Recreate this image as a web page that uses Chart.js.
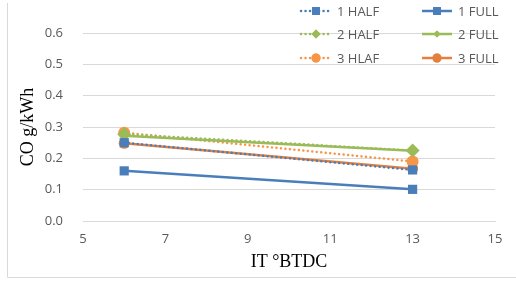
<!DOCTYPE html>
<html>
<head>
<meta charset="utf-8">
<script src="https://cdn.jsdelivr.net/npm/chart.js@4.4.1/dist/chart.umd.min.js"></script>
<style>
  html, body { margin: 0; padding: 0; background: #fff; }
  #wrap { position: relative; width: 516px; height: 282px; }
</style>
</head>
<body>
<div id="wrap"><canvas id="coChart"></canvas></div>
<script>
// data
const timing = [6, 13];
const seriesNames = ["1 HALF", "1 FULL", "2 HALF", "2 FULL", "3 HLAF", "3 FULL"];
const half1 = [0.25, 0.163];
const full1 = [0.16, 0.101];
const half2 = [0.277, 0.225];
const full2 = [0.272, 0.224];
const half3 = [0.282, 0.19];
const full3 = [0.248, 0.167];
const xTicks = [5, 7, 9, 11, 13, 15];
const yTicks = [0, 0.1, 0.2, 0.3, 0.4, 0.5, 0.6];

const blue = "#4A7EBB";
const green = "#9BBB59";
const orangeLight = "#F79646";
const orangeDark = "#E4803C";

function pts(vals) {
    return vals.map((v, i) => ({ x: timing[i], y: v }));
}

function series(label, vals, color, dashed, style, radius, legendRadius) {
    return {
        label: label,
        data: pts(vals),
        borderColor: color,
        backgroundColor: color,
        borderWidth: 2.5,
        borderDash: dashed ? [0.1, 4.4] : [],
        borderCapStyle: dashed ? "round" : "butt",
        pointStyle: style,
        pointRadius: radius,
        pointBorderWidth: 0,
        pointHoverRadius: radius,
        legendRadius: legendRadius
    };
}

const datasets = [
    series(seriesNames[0], half1, blue, true, "rect", 6.5, 5.5),
    series(seriesNames[1], full1, blue, false, "rect", 6.5, 5.5),
    series(seriesNames[2], half2, green, true, "rectRot", 7, 4.5),
    series(seriesNames[3], full2, green, false, "rectRot", 3, 3.5),
    series(seriesNames[4], half3, orangeLight, true, "circle", 6, 4.5),
    series(seriesNames[5], full3, orangeDark, false, "circle", 5.5, 4.5)
];

// Legend drawn by hand: two columns, three rows at top right
const sideLegend = {
    id: "sideLegend",
    afterDraw(chart) {
        const ctx = chart.ctx;
        const colX = [301, 422];
        const rowY = [11, 34, 58];
        ctx.save();
        chart.data.datasets.forEach((ds, i) => {
            const x = colX[i % 2];
            const y = rowY[Math.floor(i / 2)];
            ctx.strokeStyle = ds.borderColor;
            ctx.lineWidth = 2.5;
            ctx.setLineDash(ds.borderDash);
            ctx.lineCap = ds.borderCapStyle;
            ctx.beginPath();
            ctx.moveTo(x, y);
            ctx.lineTo(x + 30, y);
            ctx.stroke();
            ctx.setLineDash([]);
            ctx.fillStyle = ds.backgroundColor;
            Chart.helpers.drawPoint(ctx, { pointStyle: ds.pointStyle, radius: ds.legendRadius, borderWidth: 0 }, x + 15, y);
            ctx.fill();
            ctx.fillStyle = "#595959";
            ctx.font = "13px 'Open Sans', Calibri, sans-serif";
            ctx.textBaseline = "middle";
            ctx.textAlign = "left";
            ctx.fillText(ds.label, x + 36, y + 1);
        });
        ctx.restore();
    }
};

// left and bottom outline of the chart box
const boxEdge = {
    id: "boxEdge",
    beforeDraw(chart) {
        const ctx = chart.ctx;
        ctx.save();
        ctx.strokeStyle = "#d9d9d9";
        ctx.lineWidth = 1;
        ctx.beginPath();
        ctx.moveTo(7.5, 3);
        ctx.lineTo(7.5, 277.5);
        ctx.lineTo(516, 277.5);
        ctx.stroke();
        ctx.restore();
    }
};

const ctx = document.getElementById("coChart").getContext("2d");
new Chart(ctx, {
    type: "line",
    data: { datasets: datasets },
    options: {
        responsive: true,
        maintainAspectRatio: false,
        animation: false,
        layout: { padding: { left: 0, right: 21, top: 33, bottom: 0 } },
        plugins: {
            legend: { display: false },
            tooltip: { enabled: false }
        },
        scales: {
            x: {
                type: "linear",
                min: 5,
                max: 15,
                afterBuildTicks(scale) {
                    scale.ticks = xTicks.map(v => ({ value: v }));
                },
                afterFit(scale) { scale.height = 61; },
                grid: { display: false, drawTicks: false },
                border: { display: true, color: "#d9d9d9", width: 1 },
                ticks: {
                    color: "#595959",
                    font: { family: "'Open Sans', Calibri, sans-serif", size: 13 },
                    padding: 10
                },
                title: {
                    display: true,
                    text: "IT °BTDC",
                    color: "#000",
                    font: { family: "'Liberation Serif', 'Times New Roman', serif", size: 18 },
                    padding: { top: 10, bottom: 9 }
                }
            },
            y: {
                min: 0,
                max: 0.6,
                afterBuildTicks(scale) {
                    scale.ticks = yTicks.map(v => ({ value: v }));
                },
                afterFit(scale) { scale.width = 83; },
                grid: { color: "#d9d9d9", drawTicks: false, lineWidth: 1 },
                border: { display: false },
                ticks: {
                    color: "#595959",
                    font: { family: "'Open Sans', Calibri, sans-serif", size: 13 },
                    padding: 20,
                    callback: v => v.toFixed(1)
                },
                title: {
                    display: true,
                    text: "CO g/kWh",
                    color: "#000",
                    font: { family: "'Liberation Serif', 'Times New Roman', serif", size: 18 },
                    padding: { top: 17, bottom: 0 }
                }
            }
        }
    },
    plugins: [boxEdge, sideLegend]
});
</script>
</body>
</html>
